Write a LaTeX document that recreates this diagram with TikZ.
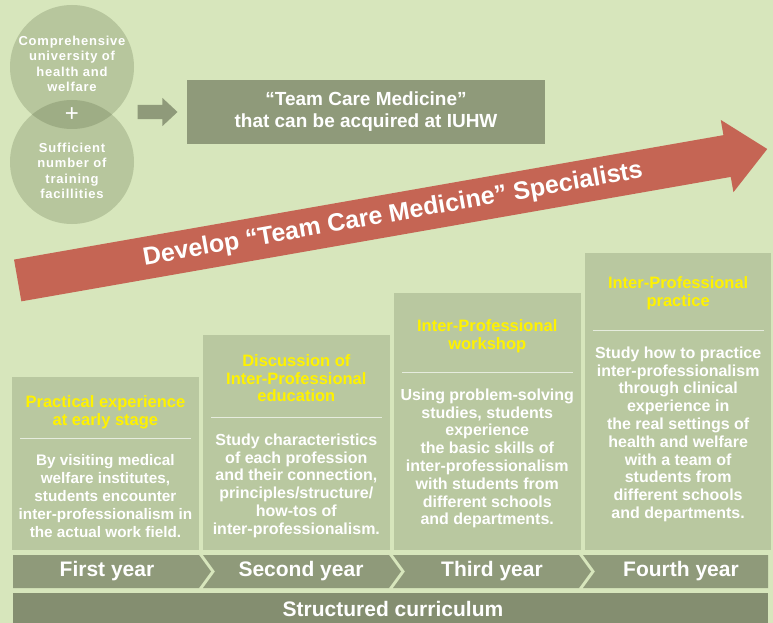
\documentclass[tikz,border=0pt]{standalone}
\usepackage{fontspec}
\setmainfont{Liberation Sans}
\newfontfamily\circlefont[LetterSpace=6]{Liberation Sans}
\usetikzlibrary{calc,positioning,shapes.arrows}

\definecolor{paleGreen}{RGB}{215,230,188}
\definecolor{circleGreen}{RGB}{78,93,55}
\definecolor{stageGreen}{RGB}{185,200,160}
\definecolor{barGreen}{RGB}{143,154,122}
\definecolor{baseGreen}{RGB}{132,142,112}
\definecolor{arrowRed}{RGB}{197,101,84}
\definecolor{headYellow}{RGB}{255,242,0}

\begin{document}
\begin{tikzpicture}[x=1pt,y=-1pt]
	\tikzset{circ/.style={circle,fill=circleGreen,fill opacity=0.23,minimum size=124pt,inner sep=0pt},
		ctext/.style={text=white,align=center,inner sep=0pt,font=\circlefont\fontsize{13}{15.3}\selectfont\bfseries},
		stage/.style={fill=stageGreen,minimum width=186.5pt,inner sep=0pt},
		head/.style={text=headYellow,align=center,inner sep=0pt,font=\fontsize{16.5}{17.6}\selectfont\bfseries},
		body/.style={text=white,align=center,inner sep=0pt,font=\fontsize{16}{17.8}\selectfont\bfseries},
		rule/.style={draw=white!65!stageGreen,line width=1pt},
		year/.style={fill=barGreen},
		yeartext/.style={text=white,inner sep=0pt,font=\fontsize{21}{21}\selectfont\bfseries},
	}
	\useasboundingbox (0,0) rectangle (773,623);
	\fill[paleGreen] (0,0) rectangle (773,623);

	% two circles
	\node[circ] (uni) at (72,67) {};
	\node[circ] (fac) at (72,162) {};
	\node[ctext, below=31pt of uni.north] (unitext) {Comprehensive\\university of\\health and\\welfare};
	\node[ctext, below=43pt of fac.north] (factext) {Sufficient\\number of\\training\\facillities};
	\node[text=white, inner sep=0pt, font=\fontsize{24}{24}\selectfont] (plus) at ($(uni)!0.5!(fac)$) {+};

	% goal
	\node[fill=barGreen, minimum width=358pt, minimum height=64pt, text=white, align=center,
		font=\fontsize{19}{22}\selectfont\bfseries] (team) at (366,112)
		{“Team Care Medicine”\\that can be acquired at IUHW};
	\node[single arrow, fill=barGreen, minimum height=40pt, minimum width=28pt, inner xsep=0pt, inner ysep=7pt,
		single arrow head extend=7pt, single arrow tip angle=86, left=9pt of team] (go) {};

	% big arrow
	\node[single arrow, fill=arrowRed, rotate=9.95, anchor=tail, minimum height=761pt, minimum width=73pt,
		single arrow head extend=15.5pt, single arrow tip angle=84,
		inner xsep=0pt, inner ysep=21pt] (develop) at (17.5,280.5) {};
	\node[rotate=10, text=white, inner sep=0pt, font=\fontsize{25}{25}\selectfont\bfseries] (developtext)
		at (393,215) {Develop “Team Care Medicine” Specialists};

	% four stages
	\node[stage, minimum height=173pt, anchor=south west] (first) at (12,550) {};
	\node[stage, minimum height=215pt, right=4pt of first.south east, anchor=south west] (second) {};
	\node[stage, minimum height=257pt, right=4pt of second.south east, anchor=south west] (third) {};
	\node[stage, minimum height=297pt, right=4pt of third.south east, anchor=south west] (fourth) {};

	\node[head, below=19pt of first.north] (firsthead) {Practical experience\\at early stage};
	\node[head, below=20pt of second.north] (secondhead) {Discussion of\\Inter-Professional\\education};
	\node[head, below=27pt of third.north] (thirdhead) {Inter-Professional\\workshop};
	\node[head, below=24pt of fourth.north] (fourthhead) {Inter-Professional\\practice};

	\coordinate[below=62pt of first.north] (firstrule);
	\coordinate[below=83pt of second.north] (secondrule);
	\coordinate[below=80pt of third.north] (thirdrule);
	\coordinate[below=78pt of fourth.north] (fourthrule);
	\draw[rule] ([xshift=8pt]first.west |- firstrule) -- ([xshift=-8pt]first.east |- firstrule);
	\draw[rule] ([xshift=8pt]second.west |- secondrule) -- ([xshift=-8pt]second.east |- secondrule);
	\draw[rule] ([xshift=8pt]third.west |- thirdrule) -- ([xshift=-8pt]third.east |- thirdrule);
	\draw[rule] ([xshift=8pt]fourth.west |- fourthrule) -- ([xshift=-8pt]fourth.east |- fourthrule);

	\node[body, font=\fontsize{15.3}{17.8}\selectfont\bfseries, below=16pt of firstrule] (firstbody)
		{By visiting medical\\welfare institutes,\\students encounter\\inter-professionalism in\\the actual work field.};
	\node[body, below=16pt of secondrule] (secondbody)
		{Study characteristics\\of each profession\\and their connection,\\principles/structure/\\how-tos of\\inter-professionalism.};
	\node[body, below=16pt of thirdrule] (thirdbody)
		{Using problem-solving\\studies, students\\experience\\the basic skills of\\inter-professionalism\\with students from\\different schools\\and departments.};
	\node[body, below=16pt of fourthrule] (fourthbody)
		{Study how to practice\\inter-professionalism\\through clinical\\experience in\\the real settings of\\health and welfare\\with a team of\\students from\\different schools\\and departments.};

	% years
	\fill[year] (13,555) -- (199,555) -- (211,571.5) -- (199,588) -- (13,588) -- cycle;
	\fill[year] (203,555) -- (389,555) -- (401,571.5) -- (389,588) -- (203,588) -- (215,571.5) -- cycle;
	\fill[year] (393,555) -- (579,555) -- (591,571.5) -- (579,588) -- (393,588) -- (405,571.5) -- cycle;
	\fill[year] (583,555) -- (768,555) -- (768,588) -- (583,588) -- (595,571.5) -- cycle;
	\node[yeartext] (year1) at (107,571.5) {First year};
	\node[yeartext] (year2) at (301,571.5) {Second year};
	\node[yeartext] (year3) at (492,571.5) {Third year};
	\node[yeartext] (year4) at (681,571.5) {Fourth year};

	\node[fill=baseGreen, minimum width=755pt, minimum height=34pt, anchor=north west, inner sep=0pt,
		text=white, font=\fontsize{21}{21}\selectfont\bfseries] (curriculum) at (13,593) {};
	\node[text=white, inner sep=0pt, font=\fontsize{21}{21}\selectfont\bfseries] (curriculumtext)
		at (393,609) {Structured curriculum};
\end{tikzpicture}
\end{document}
